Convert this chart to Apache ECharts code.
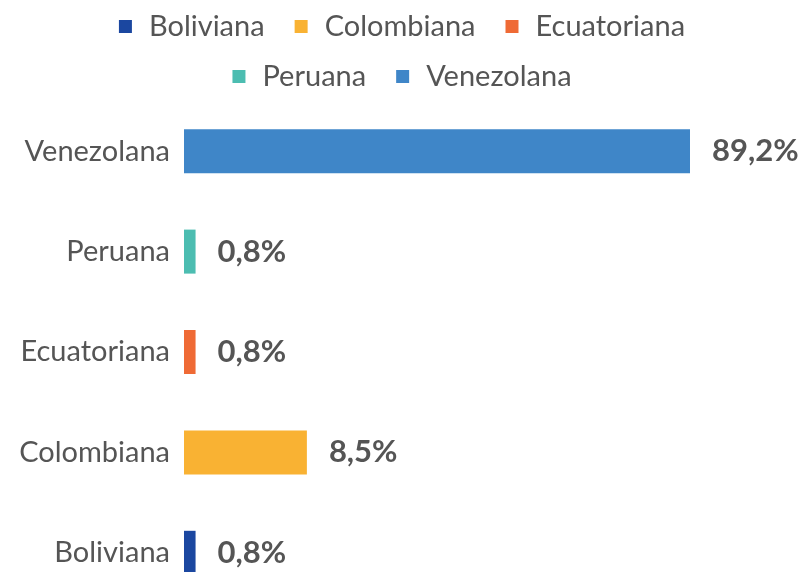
<!DOCTYPE html>
<html>
<head>
<meta charset="utf-8">
<script src="https://cdn.jsdelivr.net/npm/echarts@6/dist/echarts.min.js"></script>
<style>
html,body{margin:0;padding:0;background:#fff;}
#chart{width:804px;height:572px;}
</style>
</head>
<body>
<div id="chart"></div>
<script>
const categories = ['Boliviana', 'Colombiana', 'Ecuatoriana', 'Peruana', 'Venezolana'];
const values = [0.8, 8.5, 0.8, 0.8, 89.2];
const colors = ['#1b47a0', '#f9b233', '#ef6a35', '#4cbdb1', '#3f86c8'];

const FONT = 'Lato, "Open Sans", sans-serif';
const TEXT = '#555555';

const series = categories.map((name, i) => ({
  name: name,
  type: 'bar',
  stack: 'total',
  barWidth: 44,
  itemStyle: { color: colors[i] },
  label: {
    show: true,
    position: 'right',
    distance: 22,
    color: TEXT,
    fontFamily: FONT,
    fontWeight: 'bold',
    fontSize: 31,
    formatter: p => p.value.toFixed(1).replace('.', ',') + '%'
  },
  data: categories.map((c, j) => (j === i ? values[i] : '-'))
}));

const legendCommon = {
  icon: 'rect',
  itemWidth: 13,
  itemHeight: 13,
  itemGap: 30,
  left: 'center',
  selectedMode: false,
  textStyle: { color: TEXT, fontFamily: FONT, fontSize: 29, padding: [0, 0, 0, 12] }
};

const chart = echarts.init(document.getElementById('chart'));
chart.setOption({
  animation: false,
  legend: [
    Object.assign({}, legendCommon, { top: 7, data: categories.slice(0, 3) }),
    Object.assign({}, legendCommon, { top: 57, data: categories.slice(3) })
  ],
  grid: { left: 184, width: 506, top: 101, height: 502, outerBoundsMode: 'none', containLabel: false },
  xAxis: {
    type: 'value',
    min: 0,
    max: 89.2,
    breaks: [{ start: 20, end: 74.2, gap: 0 }],
    breakArea: { show: false },
    axisLine: { show: false },
    axisTick: { show: false },
    axisLabel: { show: false },
    splitLine: { show: false }
  },
  yAxis: {
    type: 'category',
    data: categories,
    axisLine: { show: false },
    axisTick: { show: false },
    axisLabel: { color: TEXT, fontFamily: FONT, fontSize: 29, margin: 14 }
  },
  series: series
});
</script>
</body>
</html>
